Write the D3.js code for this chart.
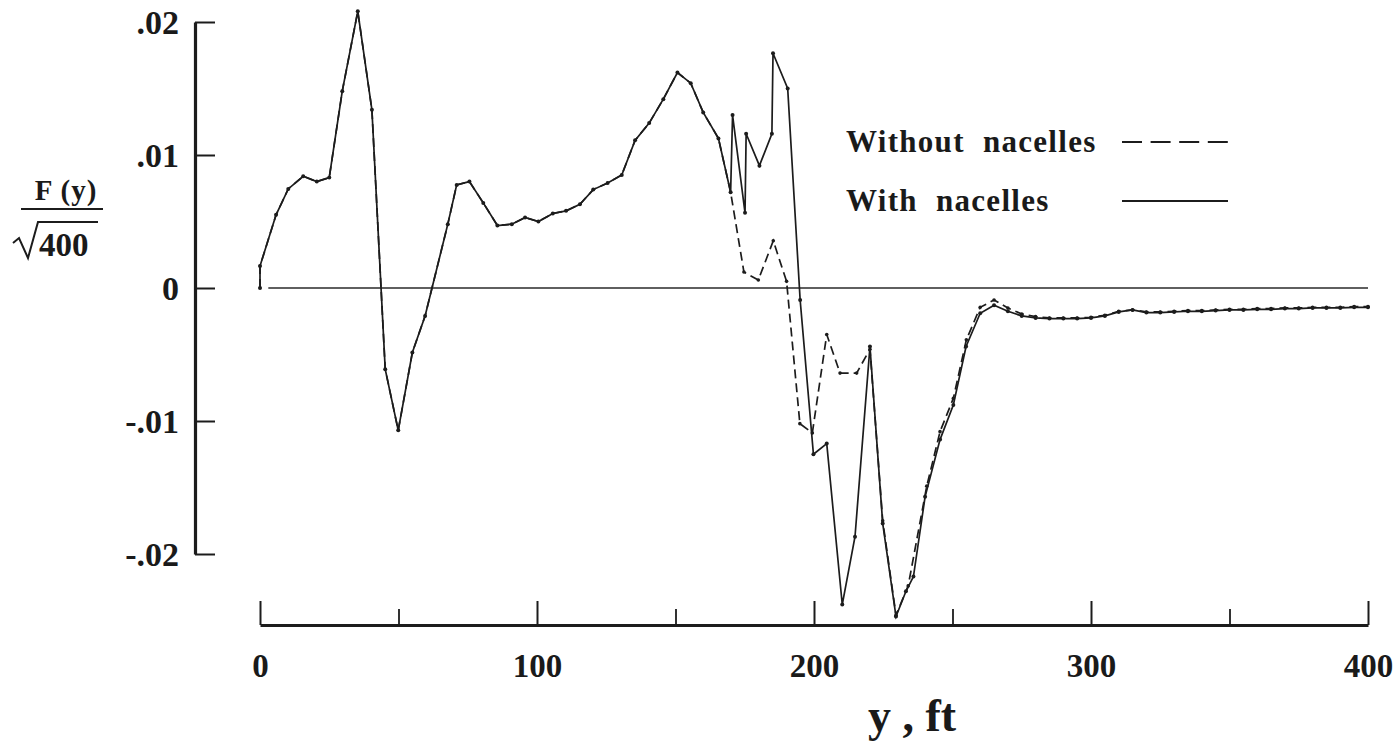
<!DOCTYPE html>
<html>
<head>
<meta charset="utf-8">
<script src="https://cdn.jsdelivr.net/npm/d3@7"></script>
<style>
  html, body { margin: 0; padding: 0; background: #fff; }
  svg { display: block; }
  text { font-family: "Liberation Serif", "Times New Roman", serif; font-weight: bold; fill: #1a1a1a; }
</style>
</head>
<body>
<svg id="chart" width="1396" height="742"></svg>
<script>
// ---- data (y in ft, F(y)/sqrt(400)) ----
const withX = [0, 0, 5.8, 10.2, 15.6, 20.5, 25, 29.7, 35.3, 40.4, 45.2, 49.9, 55, 59.6, 67.8, 71, 75.6, 80.6, 85.7, 90.9, 95.7, 100.5, 105.7, 110.5, 115.5, 120.3, 125.5, 130.6, 135.4, 140.5, 145.6, 150.7, 155.5, 160, 165.5, 169.9,
  170.6, 175.1, 175.5, 180.3, 184.8, 185.2, 190.5, 195, 199.8, 204.6, 210.2, 214.8, 220.2, 224.8, 229.6, 233.2, 235.9, 240.1, 245.5, 250.3, 254.9, 260,
  265, 270, 275, 280, 285, 290, 295, 300, 305, 310, 315, 320, 325, 330, 335, 340, 345, 350, 355, 360, 365, 370, 375, 380, 385, 390, 395, 400];
const withF = [0, 0.00165, 0.0055, 0.00745, 0.0084, 0.0080, 0.0083, 0.0148, 0.0208, 0.0134, -0.0061, -0.0107, -0.00485, -0.0021, 0.0048, 0.00775, 0.0080, 0.0064, 0.0047, 0.0048, 0.0053, 0.0050, 0.0056, 0.0058, 0.0063, 0.0074, 0.0079, 0.0085, 0.0111, 0.0124, 0.0142, 0.0162, 0.0154, 0.0132, 0.01125, 0.0072,
  0.0130, 0.00565, 0.0116, 0.0092, 0.0116, 0.01765, 0.0150, -0.0009, -0.0125, -0.0117, -0.0238, -0.0187, -0.0044, -0.0177, -0.0247, -0.0228, -0.0217, -0.0157, -0.0114, -0.0088, -0.0044, -0.0019,
  -0.0013, -0.00175, -0.0021, -0.00225, -0.0023, -0.0023, -0.0023, -0.00225, -0.0021, -0.0018, -0.00165, -0.00185, -0.00185, -0.0018, -0.00175, -0.00175, -0.0017, -0.00165, -0.00165, -0.0016, -0.0016, -0.00155, -0.00155, -0.0015, -0.0015, -0.0015, -0.00145, -0.00145];

const withoutX = [0, 0, 5.8, 10.2, 15.6, 20.5, 25, 29.7, 35.3, 40.4, 45.2, 49.9, 55, 59.6, 67.8, 71, 75.6, 80.6, 85.7, 90.9, 95.7, 100.5, 105.7, 110.5, 115.5, 120.3, 125.5, 130.6, 135.4, 140.5, 145.6, 150.7, 155.5, 160, 165.5, 169.9,
  174.7, 179.9, 185.3, 190.1, 194.9, 199.4, 204.6, 209.4, 215.4, 220.2, 224.8, 229.6, 234, 240.7, 245.5, 250.3, 255, 260,
  265, 270, 275, 280, 285, 290, 295, 300, 305, 310, 315, 320, 325, 330, 335, 340, 345, 350, 355, 360, 365, 370, 375, 380, 385, 390, 395, 400];
const withoutF = [0, 0.00165, 0.0055, 0.00745, 0.0084, 0.0080, 0.0083, 0.0148, 0.0208, 0.0134, -0.0061, -0.0107, -0.00485, -0.0021, 0.0048, 0.00775, 0.0080, 0.0064, 0.0047, 0.0048, 0.0053, 0.0050, 0.0056, 0.0058, 0.0063, 0.0074, 0.0079, 0.0085, 0.0111, 0.0124, 0.0142, 0.0162, 0.0154, 0.0132, 0.01125, 0.0072,
  0.0012, 0.0006, 0.00355, 0.0005, -0.0102, -0.0109, -0.0035, -0.0064, -0.0064, -0.0046, -0.0175, -0.0246, -0.0224, -0.0149, -0.0108, -0.0083, -0.0039, -0.00145,
  -0.0009, -0.0015, -0.00195, -0.00215, -0.00225, -0.00225, -0.00225, -0.0022, -0.00205, -0.00175, -0.00165, -0.0018, -0.0018, -0.00175, -0.0017, -0.0017, -0.00165, -0.0016, -0.0016, -0.00155, -0.00155, -0.0015, -0.0015, -0.00145, -0.00145, -0.00145, -0.0014, -0.0014];

const xMajorTicks = [0, 100, 200, 300, 400];
const xMinorTicks = [50, 150, 250, 350];
const yTicks = [0.02, 0.01, 0, -0.01, -0.02];
const yTickLabels = [".02", ".01", "0", "-.01", "-.02"];
const legendLabels = ["Without  nacelles", "With  nacelles"];

// ---- drawing ----
const svg = d3.select("#chart");
const x = d3.scaleLinear().domain([0, 400]).range([260, 1368]);
const y = d3.scaleLinear().domain([-0.02, 0.02]).range([554, 22]);
const ink = "#1c1c1c";

// y axis
const yAxis = d3.axisLeft(y)
  .tickValues(yTicks)
  .tickSize(-20)
  .tickSizeOuter(0)
  .tickPadding(16)
  .tickFormat(d => yTickLabels[yTicks.indexOf(d)]);
const gy = svg.append("g").attr("transform", "translate(195,0)").call(yAxis);
gy.select(".domain").attr("stroke", ink).attr("stroke-width", 3.2);
gy.selectAll(".tick line").attr("stroke", ink).attr("stroke-width", 2);
gy.selectAll(".tick text").attr("font-size", 34).attr("fill", ink)
  .attr("font-family", "Liberation Serif").attr("font-weight", "bold").attr("dy", "0.35em");

// x axis (major + minor ticks pointing up)
const axisY = 625;
const xAxisMajor = d3.axisBottom(x).tickValues(xMajorTicks).tickSize(-24).tickSizeOuter(0).tickPadding(29).tickFormat(d3.format("d"));
const gx = svg.append("g").attr("transform", `translate(0,${axisY})`).call(xAxisMajor);
gx.select(".domain").attr("stroke", ink).attr("stroke-width", 3.2);
gx.selectAll(".tick line").attr("stroke", ink).attr("stroke-width", 2);
gx.selectAll(".tick text").attr("font-size", 33).attr("fill", ink)
  .attr("font-family", "Liberation Serif").attr("font-weight", "bold");
const xAxisMinor = d3.axisBottom(x).tickValues(xMinorTicks).tickSize(-16).tickSizeOuter(0).tickFormat("");
const gxm = svg.append("g").attr("transform", `translate(0,${axisY})`).call(xAxisMinor);
gxm.select(".domain").remove();
gxm.selectAll(".tick line").attr("stroke", ink).attr("stroke-width", 1.8);

// zero reference line
svg.append("line")
  .attr("x1", x(3)).attr("x2", x(400))
  .attr("y1", y(0)).attr("y2", y(0))
  .attr("stroke", "#2a2a2a").attr("stroke-width", 1.3);

// series
const withData = withX.map((v, i) => [v, withF[i]]);
const withoutData = withoutX.map((v, i) => [v, withoutF[i]]);
const line = d3.line().x(d => x(d[0])).y(d => y(d[1]));

svg.append("path").datum(withoutData)
  .attr("d", line).attr("fill", "none").attr("stroke", ink)
  .attr("stroke-width", 1.7).attr("stroke-dasharray", "9,5");
svg.append("g").selectAll("circle").data(withoutData.slice(36)).join("circle")
  .attr("cx", d => x(d[0])).attr("cy", d => y(d[1])).attr("r", 1.8).attr("fill", ink);

svg.append("path").datum(withData)
  .attr("d", line).attr("fill", "none").attr("stroke", ink)
  .attr("stroke-width", 1.7);
svg.append("g").selectAll("circle").data(withData).join("circle")
  .attr("cx", d => x(d[0])).attr("cy", d => y(d[1])).attr("r", 2).attr("fill", ink);

// legend
const lg = svg.append("g");
lg.append("text").attr("x", 846).attr("y", 152).attr("font-size", 31)
  .attr("letter-spacing", 1.3).style("white-space", "pre").text(legendLabels[0]);
lg.append("line").attr("x1", 1122).attr("x2", 1228).attr("y1", 142).attr("y2", 142)
  .attr("stroke", ink).attr("stroke-width", 2.2).attr("stroke-dasharray", "20,8.6");
lg.append("text").attr("x", 846).attr("y", 211).attr("font-size", 31)
  .attr("letter-spacing", 1.3).style("white-space", "pre").text(legendLabels[1]);
lg.append("line").attr("x1", 1122).attr("x2", 1228).attr("y1", 201).attr("y2", 201)
  .attr("stroke", ink).attr("stroke-width", 2.2);

// y axis title: F(y) / sqrt(400)
const yt = svg.append("g");
yt.append("text").attr("x", 66).attr("y", 200).attr("text-anchor", "middle")
  .attr("font-size", 29).attr("letter-spacing", 1).style("white-space", "pre").text("F (y)");
yt.append("line").attr("x1", 21).attr("x2", 103).attr("y1", 209).attr("y2", 209)
  .attr("stroke", ink).attr("stroke-width", 2);
yt.append("path").attr("d", "M13,243 L19,238 L28,258 L38,222 L98,222")
  .attr("fill", "none").attr("stroke", ink).attr("stroke-width", 2);
yt.append("text").attr("x", 39).attr("y", 256).attr("font-size", 33).text("400");

// x axis title
svg.append("text").attr("x", 912).attr("y", 731).attr("text-anchor", "middle")
  .attr("font-size", 46).style("white-space", "pre").text("y , ft");
</script>
</body>
</html>
